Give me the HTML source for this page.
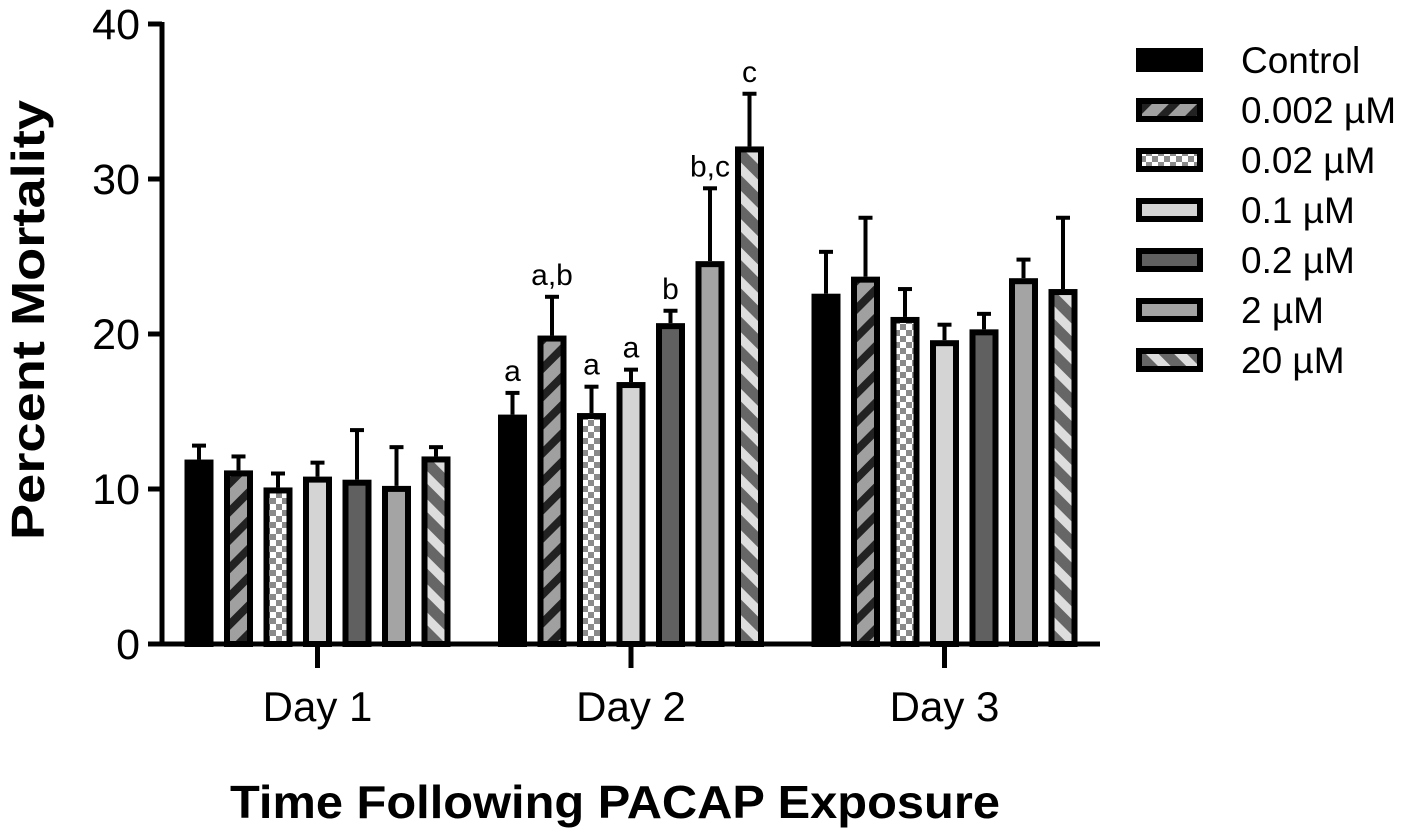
<!DOCTYPE html>
<html><head><meta charset="utf-8"><style>
body{margin:0;background:#fff}
svg text{font-family:"Liberation Sans",Arial,sans-serif}
</style></head><body>
<svg id="chart" width="1418" height="833" viewBox="0 0 1418 833" xmlns="http://www.w3.org/2000/svg">
<defs>
<pattern id="p1" patternUnits="userSpaceOnUse" width="20" height="20" patternTransform="rotate(45)"><rect width="20" height="20" fill="#a0a0a0"/><rect width="8" height="20" fill="#222"/></pattern>
<pattern id="p2" patternUnits="userSpaceOnUse" width="12" height="12"><rect width="12" height="12" fill="#fff"/><rect width="6" height="6" fill="#8a8a8a"/><rect x="6" y="6" width="6" height="6" fill="#8a8a8a"/></pattern>
<pattern id="p6" patternUnits="userSpaceOnUse" width="20" height="20" patternTransform="rotate(-45)"><rect width="20" height="20" fill="#666"/><rect width="9" height="20" fill="#ddd"/></pattern>
</defs>
<g id="bars"></g>
<g id="axes"></g>
<text transform="translate(44,320) rotate(-90)" text-anchor="middle" font-size="46" font-weight="bold" textLength="440" lengthAdjust="spacingAndGlyphs">Percent Mortality</text>
<text x="615" y="818" text-anchor="middle" font-size="46" font-weight="bold" textLength="770" lengthAdjust="spacingAndGlyphs">Time Following PACAP Exposure</text>
<g id="legend"></g>
</svg>
<script>
const categories=["Day 1","Day 2","Day 3"];
const seriesNames=["Control","0.002 µM","0.02 µM","0.1 µM","0.2 µM","2 µM","20 µM"];
const means=[[11.9,14.8,22.6],[11.2,19.9,23.7],[10.1,14.9,21.1],[10.8,16.9,19.6],[10.6,20.7,20.3],[10.2,24.7,23.6],[12.1,32.1,22.9]];
const errs=[[0.9,1.4,2.7],[0.9,2.5,3.8],[0.9,1.7,1.8],[0.9,0.8,1.0],[3.2,0.8,1.0],[2.5,4.7,1.2],[0.6,3.4,4.6]];
const sigLabels=[["","a",""],["","a,b",""],["","a",""],["","a",""],["","b",""],["","b,c",""],["","c",""]];
const yTicks=[0,10,20,30,40];
const fills=["#000","url(#p1)","url(#p2)","#d4d4d4","#606060","#a4a4a4","url(#p6)"];
const NS="http://www.w3.org/2000/svg";
const y=v=>644-v*15.5;
const cx=i=>317.5+i*313.5;
const bx=(i,s)=>cx(i)+(s-3)*39.5;
function mk(t,a,p){const e=document.createElementNS(NS,t);for(const k in a)e.setAttribute(k,a[k]);p.appendChild(e);return e;}
const bars=document.getElementById('bars'),axes=document.getElementById('axes'),leg=document.getElementById('legend');
for(let s=0;s<seriesNames.length;s++)for(let i=0;i<categories.length;i++){
 const x=bx(i,s),top=y(means[s][i]),et=y(means[s][i]+errs[s][i]);
 const ln=mk('line',{x1:x,x2:x,y1:top,y2:et,stroke:'#000','stroke-width':4},bars);
 
 
 const cap=mk('line',{x1:x-7,x2:x+7,y1:et,y2:et,stroke:'#000','stroke-width':4},bars);
 
 
 const r=mk('rect',{x:x-11.5,y:top+3,width:23,height:644-top-3,fill:fills[s],stroke:'#000','stroke-width':6},bars);
 
 
 if(sigLabels[s][i]){const t=mk('text',{x:x,y:et-12,'text-anchor':'middle','font-size':30},bars);t.textContent=sigLabels[s][i];
 
 }
}
const ya=mk('line',{x1:162,x2:162,y1:22,y2:646,stroke:'#000','stroke-width':5},axes);


const xa=mk('line',{x1:160,x2:1100,y1:644,y2:644,stroke:'#000','stroke-width':5},axes);


yTicks.forEach(v=>{mk('line',{x1:148,x2:162,y1:y(v),y2:y(v),stroke:'#000','stroke-width':5},axes);
 const t=mk('text',{x:140,y:y(v)+15,'text-anchor':'end','font-size':43},axes);t.textContent=v;
 
 });
categories.forEach((c,i)=>{mk('line',{x1:cx(i),x2:cx(i),y1:644,y2:668,stroke:'#000','stroke-width':5},axes);
 const t=mk('text',{x:cx(i),y:721,'text-anchor':'middle','font-size':42},axes);t.textContent=c;
 
 });
seriesNames.forEach((n,s)=>{const yc=60+s*50;
 const r=mk('rect',{x:1139,y:yc-9,width:61,height:18,fill:fills[s],stroke:'#000','stroke-width':6},leg);
 
 
 const t=mk('text',{x:1241,y:yc+13,'font-size':37},leg);t.textContent=n;
 
 });
</script>
</body></html>
